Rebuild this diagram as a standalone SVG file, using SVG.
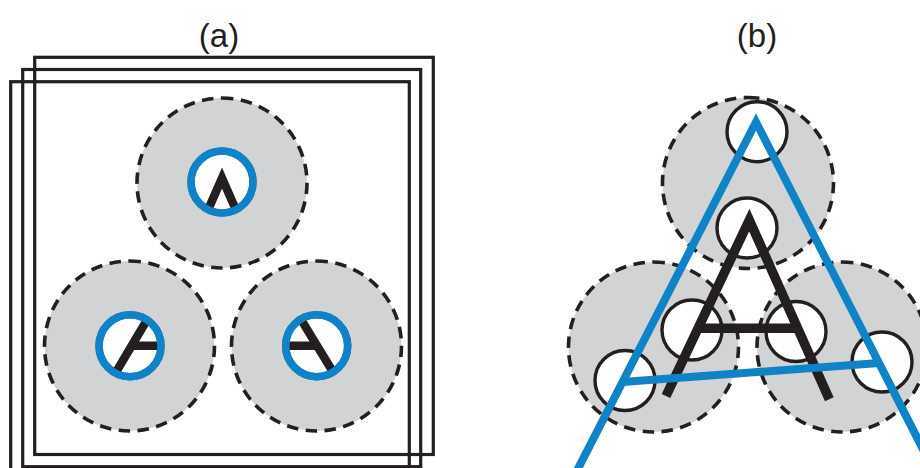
<svg xmlns="http://www.w3.org/2000/svg" width="920" height="468" viewBox="0 0 920 468">
  <style>
    .title { font-family: "Liberation Sans", Arial, sans-serif; font-size: 33px; fill: #231f20; text-anchor: middle; }
    .frame { fill: none; stroke: #231f20; stroke-width: 3.2; }
    .zone { fill: #d1d3d4; stroke: #231f20; stroke-width: 3.6; stroke-dasharray: 11.5 7.5; }
    .ring { fill: #ffffff; stroke: #0f83c5; stroke-width: 7.5; }
    .glyph { fill: none; stroke: #231f20; stroke-width: 8.5; stroke-linejoin: miter; stroke-miterlimit: 10; }
    .hole { fill: #ffffff; stroke: #231f20; stroke-width: 3.4; }
    .letter { fill: none; stroke: #231f20; stroke-width: 9.5; stroke-linejoin: miter; stroke-miterlimit: 10; }
    .outline { fill: none; stroke: #0f83c5; stroke-width: 8; stroke-linejoin: miter; stroke-miterlimit: 10; }
  </style>
  <defs>
    <clipPath id="clip-a-top"><circle cx="222" cy="182" r="30"/></clipPath>
    <clipPath id="clip-a-left"><circle cx="130" cy="345.7" r="30"/></clipPath>
    <clipPath id="clip-a-right"><circle cx="316.7" cy="345.7" r="30"/></clipPath>
  </defs>

  <text class="title" x="219" y="47">(a)</text>
  <text class="title" x="757" y="47">(b)</text>

  <!-- panel (a): stacked frames -->
  <g id="frames">
    <rect class="frame" x="34.7" y="57.3" width="398.6" height="397.2"/>
    <rect class="frame" x="22.7" y="69.5" width="398" height="397.2"/>
    <rect class="frame" x="10.7" y="81.7" width="398.6" height="397.2"/>
  </g>

  <!-- panel (a): three fields of view, each seeing a fragment of the letter -->
  <g id="a-top">
    <circle class="zone" r="85" transform="translate(222 183) rotate(-90)"/>
    <circle class="ring" cx="222" cy="182" r="31"/>
    <polyline class="glyph" clip-path="url(#clip-a-top)" points="201,226 222,178 243,226"/>
    <circle cx="222" cy="182" r="31" fill="none" stroke="#0f83c5" stroke-width="7.5"/>
  </g>
  <g id="a-left">
    <circle class="zone" r="85" transform="translate(129.5 346) rotate(-90)"/>
    <circle class="ring" cx="130" cy="345.7" r="31"/>
    <g clip-path="url(#clip-a-left)">
      <line class="glyph" x1="102" y1="395.7" x2="161.4" y2="295.7"/>
      <line class="glyph" x1="131.7" y1="345.7" x2="170" y2="345.7"/>
    </g>
    <circle cx="130" cy="345.7" r="31" fill="none" stroke="#0f83c5" stroke-width="7.5"/>
  </g>
  <g id="a-right">
    <circle class="zone" r="85" transform="translate(316.5 346) rotate(-90)"/>
    <circle class="ring" cx="316.7" cy="345.7" r="31"/>
    <g clip-path="url(#clip-a-right)">
      <line class="glyph" x1="286.5" y1="295.7" x2="347.5" y2="395.7"/>
      <line class="glyph" x1="276" y1="345.7" x2="316" y2="345.7"/>
    </g>
    <circle cx="316.7" cy="345.7" r="31" fill="none" stroke="#0f83c5" stroke-width="7.5"/>
  </g>

  <!-- panel (b): fields of view over the whole letter -->
  <g id="b-top">
    <circle class="zone" r="85.5" transform="translate(748 183) rotate(-90)"/>
  </g>
  <g id="b-left">
    <circle class="zone" r="85" transform="translate(653.5 347) rotate(-90)"/>
  </g>
  <g id="b-right">
    <circle class="zone" r="85" transform="translate(842 347) rotate(-90)"/>
  </g>
  <g id="b-holes">
    <circle class="hole" cx="757" cy="131.7" r="30"/>
    <circle class="hole" cx="747" cy="228" r="30"/>
    <circle class="hole" cx="692" cy="330" r="30"/>
    <circle class="hole" cx="625" cy="380.5" r="30"/>
    <circle class="hole" cx="796" cy="331.5" r="30"/>
    <circle class="hole" cx="882" cy="362" r="30"/>
  </g>
  <g id="b-letter">
    <polyline class="letter" points="666,396 749.3,220 829.3,399.3"/>
    <line class="letter" x1="698" y1="328.3" x2="798" y2="328.3"/>
  </g>
  <g id="b-outline">
    <polyline class="outline" points="572.2,480 756,122 938.7,480"/>
    <line class="outline" x1="622.4" y1="382" x2="879.2" y2="363"/>
  </g>
</svg>
